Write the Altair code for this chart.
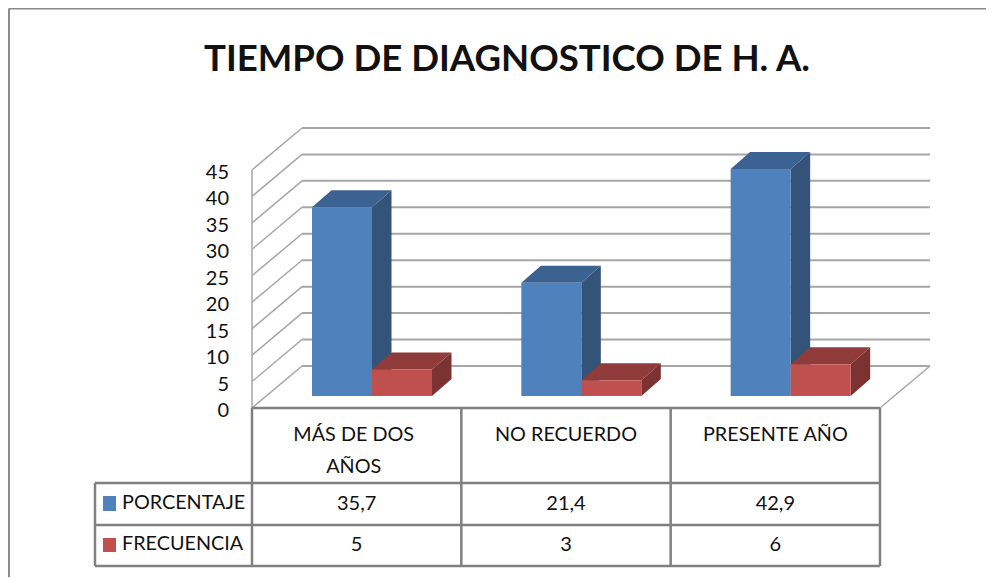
import altair as alt

# ---- chart values ----
categories = ["MÁS DE DOS", "NO RECUERDO", "PRESENTE AÑO"]
category_line2 = ["AÑOS", "", ""]
porcentaje = [35.7, 21.4, 42.9]
frecuencia = [5, 3, 6]
porcentaje_labels = ["35,7", "21,4", "42,9"]
frecuencia_labels = ["5", "3", "6"]
ticks = [0, 5, 10, 15, 20, 25, 30, 35, 40, 45]
title = "TIEMPO DE DIAGNOSTICO DE H. A."
series_names = ["PORCENTAJE", "FRECUENCIA"]

FONT = "Lato"
W, H = 978, 569
PX_X = 209.33          # pixels per category
PX_Y = 5.29            # pixels per value unit
X0_PX, Y0_PX = 252, 408


def ux(px):
    return (px - X0_PX) / PX_X


def uy(py):
    return (Y0_PX - py) / PX_Y


xs = alt.Scale(domain=[ux(8), ux(8 + W)], range=[0, W], nice=False, zero=False)
ys = alt.Scale(domain=[uy(8 + H), uy(8)], range=[H, 0], nice=False, zero=False)
X = lambda f="x": alt.X(f"{f}:Q", scale=xs, axis=None)
Y = lambda f="y": alt.Y(f"{f}:Q", scale=ys, axis=None)


def rules(rows, color, width):
    return alt.Chart(alt.Data(values=rows)).mark_line(
        color=color, strokeWidth=width, clip=False
    ).encode(X(), Y(), detail="id:N", order="o:Q")


def seg(i, x1, y1, x2, y2):
    return [
        {"id": i, "o": 0, "x": x1, "y": y1},
        {"id": i, "o": 1, "x": x2, "y": y2},
    ]


# --- wall, floor ---
DX, DY = ux(302), uy(366)       # full depth of the chart box
x_right = 3.0
grid = []
for t in ticks:
    grid += seg(f"g{t}", DX, t + DY, x_right + DX, t + DY)
diag = []
for t in ticks:
    diag += seg(f"d{t}", 0, t, DX, t + DY)
diag += seg("dr", x_right, 0, x_right + DX, DY)
diag += seg("w", 0, 0, 0, ticks[-1])

# --- table ---
table = []
y_row = [uy(483), uy(525), uy(566)]
x_left = ux(95)
table += seg("t0", 0, 0, x_right, 0)
for k, yy in enumerate(y_row):
    table += seg(f"h{k}", x_left, yy, x_right, yy)
for k in range(1, 4):
    table += seg(f"v{k}", k, 0, k, y_row[-1])
table += seg("v0", 0, 0, 0, y_row[-1])
table += seg("vl", x_left, y_row[0], x_left, y_row[-1])

frame = seg("f1", ux(9), uy(578), ux(9), uy(8.5)) + seg("f2", ux(9), uy(8.5), ux(986), uy(8.5))

# --- bars ---
BW = 60 / PX_X
BASE = (Y0_PX - 396) / PX_Y
BDX, BDY = 19.5 / PX_X, 17 / PX_Y


def bar_layers(values, start, front, top, side):
    fronts, tops, sides = [], [], []
    for i, v in enumerate(values):
        x0 = i + start
        x1 = x0 + BW
        yb, yt = BASE, BASE + v
        fronts.append({"x": x0, "x2": x1, "y": yb, "y2": yt})
        for xx, a, b in [
            (x0, yt, yt),
            (x0 + BDX, yt, yt + BDY),
            (x1, yt, yt + BDY),
            (x1 + BDX, yt + BDY, yt + BDY),
        ]:
            tops.append({"id": i, "x": xx, "y": a, "y2": b})
        sides.append({"id": i, "x": x1, "y": yb, "y2": yt})
        sides.append({"id": i, "x": x1 + BDX, "y": yb + BDY, "y2": yt + BDY})
    ly = []
    for rows, col in [(sides, side), (tops, top)]:
        ly.append(
            alt.Chart(alt.Data(values=rows))
            .mark_area(color=col, clip=False)
            .encode(X(), Y().stack(None), alt.Y2("y2:Q"), detail="id:N")
        )
    ly.append(
        alt.Chart(alt.Data(values=fronts))
        .mark_rect(color=front)
        .encode(X(), alt.X2("x2:Q"), Y(), alt.Y2("y2:Q"))
    )
    return ly


def texts(rows, size, weight="normal", align="center"):
    return alt.Chart(alt.Data(values=rows)).mark_text(
        font=FONT, fontSize=size, fontWeight=weight, color="#111111",
        align=align, baseline="middle",
    ).encode(X(), Y(), text="t:N")


title_t = texts([{"x": ux(507), "y": uy(60), "t": title}], 36.6, "bold")
tick_t = texts(
    [{"x": ux(229), "y": t + uy(411), "t": str(t)} for t in ticks], 20, align="right"
)
cat_rows = []
for i, c in enumerate(categories):
    cx = i + 0.5 - (3 / PX_X if i == 0 else 0)
    cat_rows.append({"x": cx, "y": uy(435), "t": c})
    if category_line2[i]:
        cat_rows.append({"x": cx, "y": uy(467), "t": category_line2[i]})
cat_t = texts(cat_rows, 19.8)
val_rows = []
for i in range(3):
    val_rows.append({"x": i + 0.5, "y": uy(504), "t": porcentaje_labels[i]})
    val_rows.append({"x": i + 0.5, "y": uy(545), "t": frecuencia_labels[i]})
val_t = texts(val_rows, 20)
name_t = texts(
    [
        {"x": ux(122), "y": uy(503), "t": series_names[0]},
        {"x": ux(122), "y": uy(544), "t": series_names[1]},
    ],
    19.8,
    align="left",
)
swatches = (
    alt.Chart(
        alt.Data(
            values=[
                {"x": ux(103), "x2": ux(116), "y": uy(511), "y2": uy(496), "c": "#4f81bd"},
                {"x": ux(103), "x2": ux(116), "y": uy(552), "y2": uy(538), "c": "#c0504d"},
            ]
        )
    )
    .mark_rect()
    .encode(X(), alt.X2("x2:Q"), Y(), alt.Y2("y2:Q"), alt.Color("c:N", scale=None))
)

layers = (
    [rules(frame, "#8a8a8a", 2), rules(grid, "#a6a6a6", 2), rules(diag, "#a6a6a6", 1.5)]
    + bar_layers(porcentaje, 60 / PX_X, "#4f81bd", "#3c6291", "#335478")
    + bar_layers(frecuencia, 120 / PX_X, "#c0504d", "#8f3b39", "#7b3230")
    + [rules(table, "#808080", 2.5), swatches, title_t, tick_t, cat_t, val_t, name_t]
)

chart = (
    alt.layer(*layers)
    .properties(width=W, height=H, padding=0, autosize=alt.AutoSizeParams(type="none"))
    .configure_view(stroke=None)
)
chart.save("out.html", embed_options={"renderer": "svg", "actions": False})
